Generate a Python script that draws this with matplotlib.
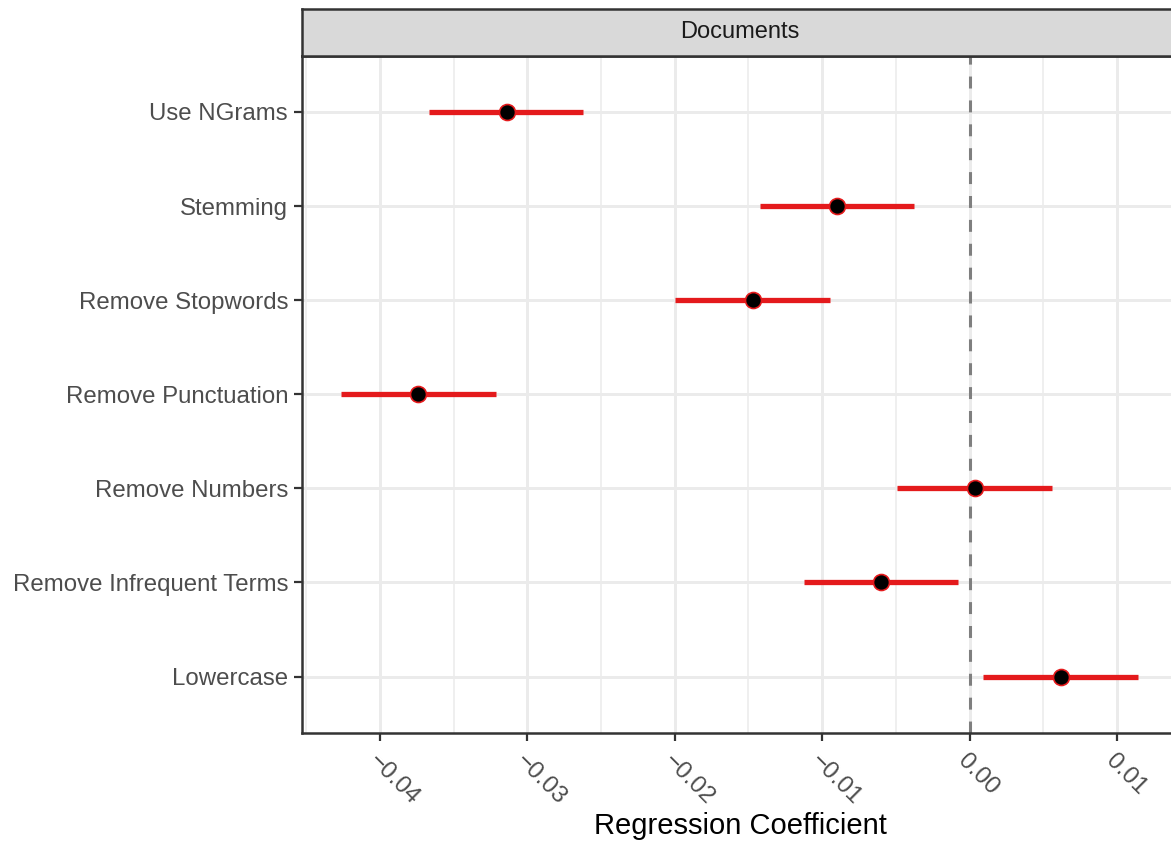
import matplotlib
matplotlib.use("Agg")
import matplotlib.pyplot as plt
import numpy as np

plt.rcParams['font.family'] = ['Liberation Sans', 'DejaVu Sans']
plt.rcParams['lines.scale_dashes'] = False

categories = ["Lowercase", "Remove Infrequent Terms", "Remove Numbers",
              "Remove Punctuation", "Remove Stopwords", "Stemming", "Use NGrams"]
estimate = [0.00621, -0.00600, 0.00037, -0.03741, -0.01469, -0.00899, -0.03138]
lower = [0.00092, -0.01123, -0.00492, -0.04264, -0.01998, -0.01421, -0.03667]
upper = [0.01143, -0.00078, 0.00560, -0.03212, -0.00946, -0.00377, -0.02622]
xticks = [-0.04, -0.03, -0.02, -0.01, 0.00, 0.01]
xtick_labels = ["\u22120.04", "\u22120.03", "\u22120.02", "\u22120.01", "0.00", "0.01"]
minor_ticks = [-0.045, -0.035, -0.025, -0.015, -0.005, 0.005]
facet_label = "Documents"
x_label = "Regression Coefficient"

W, H = 1171, 843
fig = plt.figure(figsize=(W / 100, H / 100), dpi=100)

px_left, px_right, px_top, px_bottom = 302, 1178, 55.5, 733
ax = fig.add_axes([px_left / W, 1 - px_bottom / H, (px_right - px_left) / W, (px_bottom - px_top) / H])
ax.set_facecolor("white")

# x scale: 0.00 at px 969.5, 147.4 px per 0.01
x0px, scale = 969.5, 14740.0
ax.set_xlim((px_left - x0px) / scale, (px_right - x0px) / scale)
ax.set_ylim(0.4, len(categories) + 0.6)

y = np.arange(1, len(categories) + 1)

# grid
for v in minor_ticks:
    ax.axvline(v, color="#EBEBEB", lw=1.1, zorder=0)
for v in xticks:
    ax.axvline(v, color="#EBEBEB", lw=2.1, zorder=0)
for yy in y:
    ax.axhline(yy, color="#EBEBEB", lw=2.1, zorder=0)

ax.axvline(0, color="#7F7F7F", lw=2.2, linestyle=(0, (8.6, 8.6)), zorder=1)

ax.hlines(y, lower, upper, color="#E41A1C", lw=3.8, zorder=2)
ax.scatter(estimate, y, s=11.5 ** 2, facecolor="black", edgecolor="#E41A1C", linewidths=1.2, zorder=3)

ax.set_yticks(y)
ax.set_yticklabels(categories, fontsize=17.3, color="#4D4D4D")
ax.set_xticks(xticks)
ax.set_xticklabels(xtick_labels, fontsize=17.5, color="#4D4D4D", rotation=-45,
                   ha="left", va="top", rotation_mode="anchor")
ax.tick_params(axis="both", length=6, width=1.6, color="#333333")
ax.tick_params(axis="x", pad=6)
ax.tick_params(axis="y", pad=4)
ax.set_xlabel(x_label, fontsize=21, color="black", labelpad=2)

for s in ax.spines.values():
    s.set_color("#333333")
    s.set_linewidth(1.8)

# strip
sax = fig.add_axes([px_left / W, 1 - px_top / H, (px_right - px_left) / W, (px_top - 9) / H])
sax.set_facecolor("#D9D9D9")
sax.set_xticks([])
sax.set_yticks([])
for s in sax.spines.values():
    s.set_color("#333333")
    s.set_linewidth(1.8)
sax.text(0.5, 0.5, facet_label, ha="center", va="center", fontsize=17, color="#1A1A1A",
         transform=sax.transAxes)

fig.savefig("out.png", dpi=100)
